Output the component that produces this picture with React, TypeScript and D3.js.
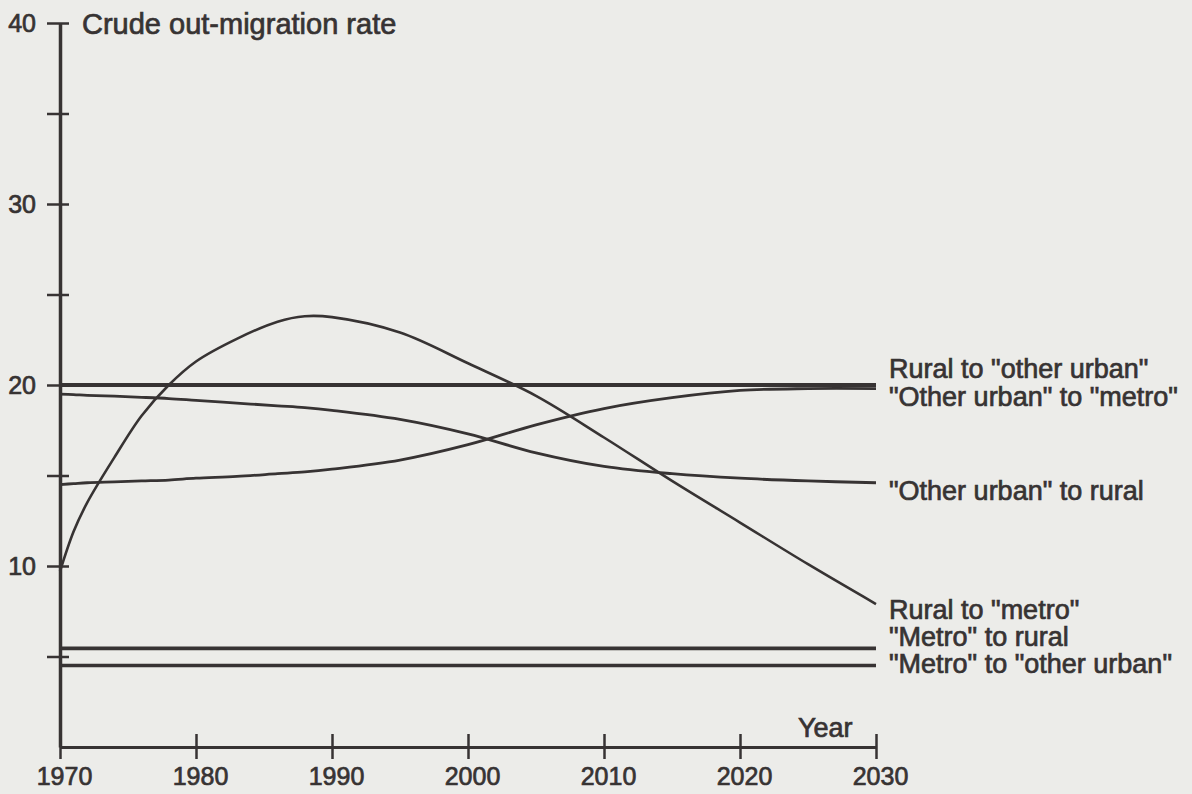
import React, { useRef, useEffect } from "react";
import * as d3 from "d3";

const years = [1970, 1971, 1972, 1974, 1976, 1978, 1980, 1983, 1986, 1988, 1990, 1995, 2000, 2005, 2010, 2015, 2020, 2025, 2030];

const ruralToOtherUrban = [20, 20, 20, 20, 20, 20, 20, 20, 20, 20, 20, 20, 20, 20, 20, 20, 20, 20, 20];
const otherUrbanToMetro = [14.5, 14.55, 14.6, 14.65, 14.7, 14.75, 14.85, 14.95, 15.1, 15.2, 15.35, 15.85, 16.7, 17.8, 18.7, 19.3, 19.7, 19.8, 19.8];
const otherUrbanToRural = [19.5, 19.47, 19.43, 19.38, 19.32, 19.25, 19.15, 19.0, 18.85, 18.75, 18.6, 18.1, 17.3, 16.25, 15.5, 15.1, 14.85, 14.7, 14.6];
const ruralToMetro = [9.7, 11.9, 13.5, 16.0, 18.3, 20.0, 21.3, 22.55, 23.5, 23.8, 23.75, 22.9, 21.2, 19.4, 17.1, 14.7, 12.4, 10.1, 7.9];
const metroToRural = [5.45, 5.45, 5.45, 5.45, 5.45, 5.45, 5.45, 5.45, 5.45, 5.45, 5.45, 5.45, 5.45, 5.45, 5.45, 5.45, 5.45, 5.45, 5.45];
const metroToOtherUrban = [4.5, 4.5, 4.5, 4.5, 4.5, 4.5, 4.5, 4.5, 4.5, 4.5, 4.5, 4.5, 4.5, 4.5, 4.5, 4.5, 4.5, 4.5, 4.5];

const xTicks = [1970, 1980, 1990, 2000, 2010, 2020, 2030];
const yTicks = [5, 10, 15, 20, 25, 30, 35, 40];

const seriesLabels = [
  { text: 'Rural to "other urban"', y: 378 },
  { text: '"Other urban" to "metro"', y: 406 },
  { text: '"Other urban" to rural', y: 500 },
  { text: 'Rural to "metro"', y: 619 },
  { text: '"Metro" to rural', y: 646 },
  { text: '"Metro" to "other urban"', y: 673 },
];

const ink = "#373333";
const font = "'Liberation Sans', Arial, sans-serif";

const App = () => {
  const svgRef = useRef<SVGSVGElement>(null);

  useEffect(() => {
    const svg = d3.select(svgRef.current);
    svg.selectAll("*").remove();

    const width = 1192;
    const height = 794;

    const x = d3.scaleLinear().domain([1970, 2030]).range([60, 876]);
    const y = d3.scaleLinear().domain([0, 40]).range([747, 23]);

    svg.append("rect").attr("width", width).attr("height", height).attr("fill", "#ecece9");

    // lines
    const series = [
      { values: ruralToOtherUrban, w: 4 },
      { values: otherUrbanToMetro, w: 2.8 },
      { values: otherUrbanToRural, w: 2.8 },
      { values: ruralToMetro, w: 2.6 },
      { values: metroToRural, w: 3.6 },
      { values: metroToOtherUrban, w: 3.6 },
    ];

    const line = d3
      .line<number>()
      .x((d, i) => x(years[i]))
      .y((d) => y(d))
      .curve(d3.curveCatmullRom.alpha(0.5));

    series.forEach((s) => {
      svg
        .append("path")
        .datum(s.values)
        .attr("fill", "none")
        .attr("stroke", ink)
        .attr("stroke-width", s.w)
        .attr("d", line);
    });

    // y axis
    const yAxis = svg
      .append("g")
      .attr("transform", `translate(${x(1970)},0)`)
      .call(
        d3
          .axisLeft(y)
          .tickValues(yTicks)
          .tickSizeOuter(0)
          .tickFormat((d) => (+d % 10 === 0 ? String(d) : ""))
      );
    yAxis.select(".domain").attr("stroke", ink).attr("stroke-width", 3.5);
    yAxis.selectAll(".tick line").attr("stroke", ink).attr("stroke-width", 2.5).attr("x1", 9).attr("x2", -13);
    yAxis
      .selectAll(".tick text")
      .attr("x", -24)
      .attr("fill", ink)
      .attr("stroke", ink)
      .attr("stroke-width", 0.7)
      .style("font-size", "25px")
      .style("font-family", font);

    // x axis
    const xAxis = svg
      .append("g")
      .attr("transform", `translate(0,${y(0)})`)
      .call(d3.axisBottom(x).tickValues(xTicks).tickSizeOuter(0).tickFormat(d3.format("d")));
    xAxis.select(".domain").attr("stroke", ink).attr("stroke-width", 3.2);
    xAxis.selectAll(".tick line").attr("stroke", ink).attr("stroke-width", 2.5).attr("y1", -13).attr("y2", 12);
    xAxis
      .selectAll(".tick text")
      .attr("y", 38)
      .attr("dy", 0)
      .attr("dx", 4)
      .attr("fill", ink)
      .attr("stroke", ink)
      .attr("stroke-width", 0.7)
      .style("font-size", "25px")
      .style("font-family", font);

    // titles
    svg
      .append("text")
      .attr("x", 82)
      .attr("y", 34)
      .attr("fill", ink)
      .attr("stroke", ink)
      .attr("stroke-width", 0.7)
      .style("font-size", "29px")
      .style("font-family", font)
      .text("Crude out-migration rate");

    svg
      .append("text")
      .attr("x", 798)
      .attr("y", 737)
      .attr("fill", ink)
      .attr("stroke", ink)
      .attr("stroke-width", 0.7)
      .style("font-size", "27px")
      .style("font-family", font)
      .text("Year");

    // series labels
    svg
      .append("g")
      .selectAll("text")
      .data(seriesLabels)
      .join("text")
      .attr("x", 889)
      .attr("y", (d) => d.y)
      .attr("fill", ink)
      .attr("stroke", ink)
      .attr("stroke-width", 0.7)
      .style("font-size", "27px")
      .style("font-family", font)
      .text((d) => d.text);
  }, []);

  return (
    <svg
      ref={svgRef}
      width={1192}
      height={794}
      style={{ position: "absolute", left: 0, top: 0, display: "block" }}
    ></svg>
  );
};

export default App;
